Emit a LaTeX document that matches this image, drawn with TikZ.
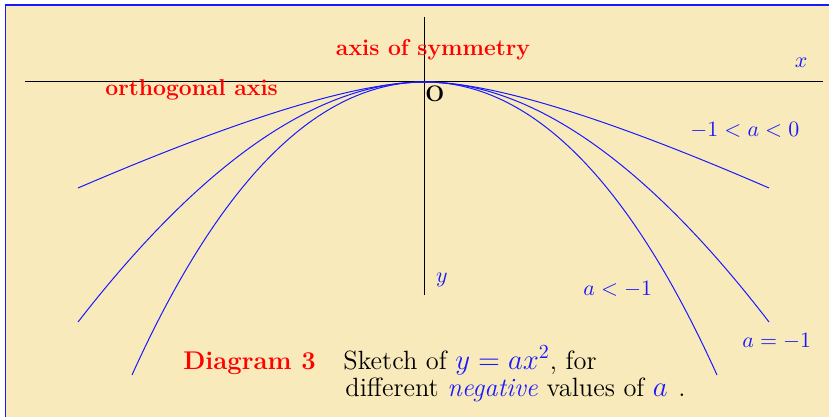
\documentclass[tikz,border=0pt]{standalone}
\usetikzlibrary{calc}
\definecolor{bgyellow}{RGB}{249,234,187}
\definecolor{myblue}{RGB}{25,25,255}
\definecolor{myred}{RGB}{255,0,0}
\tikzset{
  lbl/.style={inner sep=0pt, font=\fontsize{11.2}{13}\selectfont},
  rlbl/.style={lbl, text=myred, font=\fontsize{11.45}{13}\selectfont\bfseries},
  blbl/.style={lbl, text=myblue},
  captext/.style={inner sep=0pt, font=\fontsize{13.2}{15}\selectfont},
  curve/.style={draw=myblue, line width=0.5pt},
  axisline/.style={draw=black, line width=0.5pt},
}
\newcommand{\qbz}[3]{($(#1)!2/3!(#2)$) and ($(#3)!2/3!(#2)$)}
\begin{document}
\begin{tikzpicture}[x=0.5pt, y=-0.5pt]
\useasboundingbox (0,0) rectangle (829,417);
\begin{scope}
\clip (0,0) rectangle (829,417);
\fill[bgyellow] (5.5,5) rectangle (840,430);
\draw[myblue, line width=0.75pt] (5.5,430) -- (5.5,5) -- (840,5);
\end{scope}
% axes
\coordinate (xl) at (25,82);
\coordinate (xr) at (823,82);
\coordinate (yt) at (424.5,17);
\coordinate (yb) at (424.5,295);
\coordinate (V) at (424.5,82);
\draw[axisline] (xl) -- (xr);
\draw[axisline] (yt) -- (yb);
% curve -1<a<0
\coordinate (A1) at (78,188);  \coordinate (CA1) at (324.5,82);
\coordinate (A2) at (769,188); \coordinate (CA2) at (524.5,82);
% curve a=-1
\coordinate (B1) at (78,322);  \coordinate (CB1) at (264.5,82);
\coordinate (B2) at (769,322); \coordinate (CB2) at (584.5,82);
% curve a<-1
\coordinate (D1) at (132,375); \coordinate (CD1) at (264.5,82);
\coordinate (D2) at (717,375); \coordinate (CD2) at (584.5,82);
\draw[curve] (A1) .. controls \qbz{A1}{CA1}{V} .. (V) .. controls \qbz{V}{CA2}{A2} .. (A2);
\draw[curve] (B1) .. controls \qbz{B1}{CB1}{V} .. (V) .. controls \qbz{V}{CB2}{B2} .. (B2);
\draw[curve] (D1) .. controls \qbz{D1}{CD1}{V} .. (V) .. controls \qbz{V}{CD2}{D2} .. (D2);
% labels
\node[rlbl, anchor=base] (sym) at (433,56) {axis of symmetry};
\node[rlbl, anchor=base west] (orth) at (105,96) {orthogonal axis};
\node[blbl, anchor=base] (xlab) at (801,68) {$x$};
\node[lbl, anchor=base west, font=\fontsize{11.2}{13}\selectfont\bfseries] (O) at (425,102) {O};
\node[blbl, anchor=base west] (l1) at (690,136) {$-1<a<0$};
\node[blbl, anchor=base] (ylab) at (442,282) {$y$};
\node[blbl, anchor=base west] (l2) at (583,295) {$a<-1$};
\node[blbl, anchor=base west] (l3) at (742,347) {$a=-1$};
% caption
\node[captext, anchor=base west, text=myred, font=\fontsize{12.8}{15}\selectfont\bfseries] (dg) at (183,369) {Diagram 3};
\node[captext, anchor=base west] (c1) at (343,369) {Sketch of \textcolor{myblue}{\fontsize{13.9}{15}\selectfont$y=ax^2$}, for};
\node[captext, anchor=base west] (c2) at (345,396) {different \textcolor{myblue}{\emph{negative}} values of \textcolor{myblue}{\fontsize{14.6}{15}\selectfont$a$} \hspace{1pt}.};
\end{tikzpicture}
\end{document}
